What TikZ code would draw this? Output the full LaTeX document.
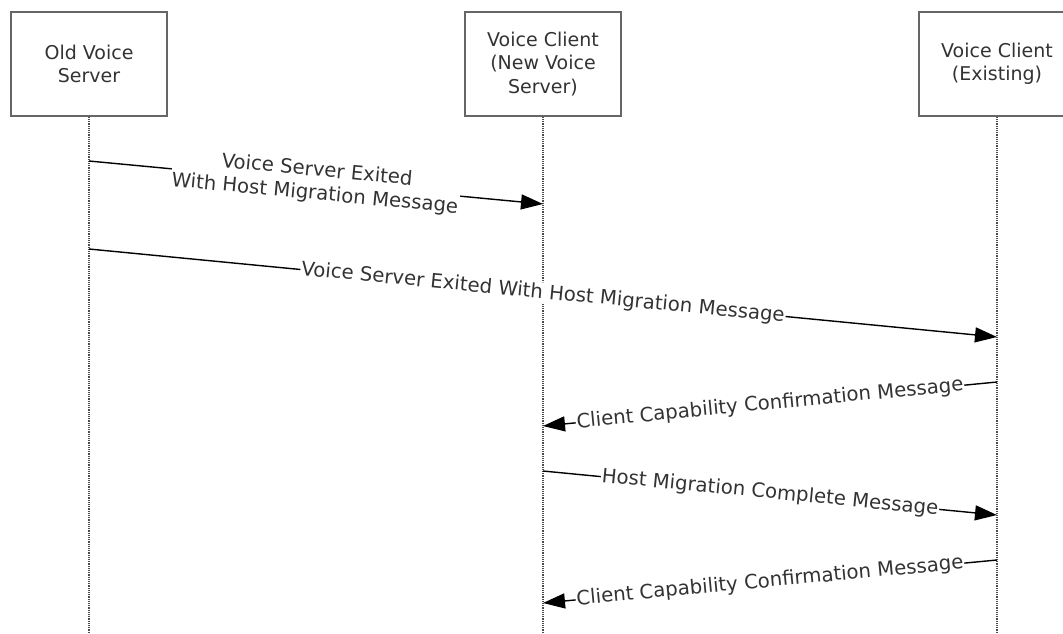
\documentclass[tikz,border=0pt]{standalone}
\usepackage{fontspec}
\setmainfont{DejaVu Sans}
\usetikzlibrary{arrows.meta}
\begin{document}
\begin{tikzpicture}[x=1pt,y=-1pt,
  actor/.style={draw=black!60, line width=1.6pt, fill=white, minimum width=156pt,
    minimum height=104pt, inner sep=0pt, align=center,
    font=\fontsize{19}{23.5}\selectfont, text=black!80},
  lifeline/.style={draw=black!70, line width=1.6pt, dash pattern=on 1.1pt off 1.1pt},
  msg/.style={draw=black, line width=1.4pt, -{Triangle[length=22pt,width=15pt]}},
  lbl/.style={sloped, fill=white, inner sep=1pt, align=center,
    font=\fontsize{19.7}{23.5}\selectfont, text=black!80}
]
\useasboundingbox (0,0) rectangle (1063,633);
% actors
\node[actor] (A) at (89,64) {Old Voice\\Server};
\node[actor] (B) at (543,64) {Voice Client\\(New Voice\\Server)};
\node[actor] (C) at (997,64) {Voice Client\\(Existing)};
% lifeline ends
\coordinate (Aend) at (89,633);
\coordinate (Bend) at (543,633);
\coordinate (Cend) at (997,633);
\draw[lifeline] (A.south) -- (Aend);
\draw[lifeline] (B.south) -- (Bend);
\draw[lifeline] (C.south) -- (Cend);
% message points
\coordinate (m1s) at (89,161);
\coordinate (m1e) at (543,204);
\coordinate (m2s) at (89,249);
\coordinate (m2e) at (997,337);
\coordinate (m3s) at (997,382);
\coordinate (m3e) at (543,426);
\coordinate (m4s) at (543,471);
\coordinate (m4e) at (997,515);
\coordinate (m5s) at (997,560);
\coordinate (m5e) at (543,603);
% messages
\draw[msg] (m1s) -- node[lbl] {Voice Server Exited\\With Host Migration Message} (m1e);
\draw[msg] (m2s) -- node[lbl] {Voice Server Exited With Host Migration Message} (m2e);
\draw[msg] (m3s) -- node[lbl] {Client Capability Confirmation Message} (m3e);
\draw[msg] (m4s) -- node[lbl] {Host Migration Complete Message} (m4e);
\draw[msg] (m5s) -- node[lbl] {Client Capability Confirmation Message} (m5e);
\end{tikzpicture}
\end{document}
